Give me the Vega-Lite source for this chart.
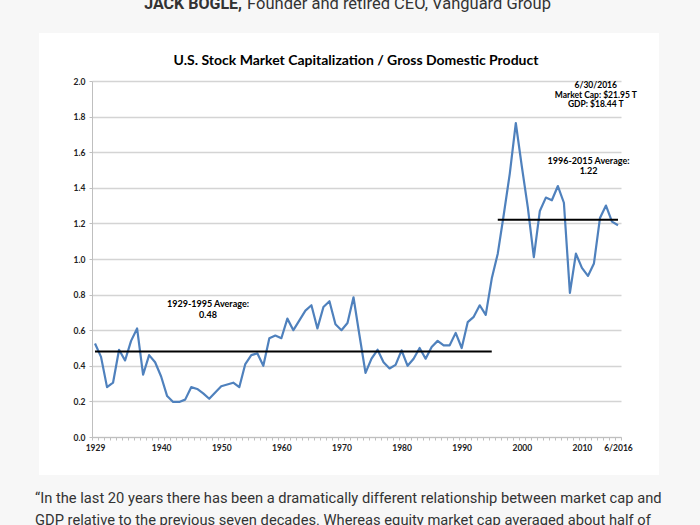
{
  "$schema": "https://vega.github.io/schema/vega-lite/v6.json",
  "width": 529,
  "height": 356,
  "autosize": {"type": "none"},
  "padding": {"left": 92, "top": 81, "right": 79, "bottom": 88},
  "background": "white",
  "config": {"view": {"stroke": null}},
  "resolve": {"axis": {"x": "independent", "y": "independent"}},
  "datasets": {
    "ratio": [
      {"year": 1929, "ratio": 0.525}, {"year": 1930, "ratio": 0.45}, {"year": 1931, "ratio": 0.28},
      {"year": 1932, "ratio": 0.305}, {"year": 1933, "ratio": 0.49}, {"year": 1934, "ratio": 0.43},
      {"year": 1935, "ratio": 0.54}, {"year": 1936, "ratio": 0.61}, {"year": 1937, "ratio": 0.35},
      {"year": 1938, "ratio": 0.46}, {"year": 1939, "ratio": 0.42}, {"year": 1940, "ratio": 0.34},
      {"year": 1941, "ratio": 0.23}, {"year": 1942, "ratio": 0.197}, {"year": 1943, "ratio": 0.197},
      {"year": 1944, "ratio": 0.21}, {"year": 1945, "ratio": 0.28}, {"year": 1946, "ratio": 0.27},
      {"year": 1947, "ratio": 0.245}, {"year": 1948, "ratio": 0.215}, {"year": 1949, "ratio": 0.25},
      {"year": 1950, "ratio": 0.285}, {"year": 1951, "ratio": 0.295}, {"year": 1952, "ratio": 0.305},
      {"year": 1953, "ratio": 0.28}, {"year": 1954, "ratio": 0.41}, {"year": 1955, "ratio": 0.46},
      {"year": 1956, "ratio": 0.47}, {"year": 1957, "ratio": 0.4}, {"year": 1958, "ratio": 0.555},
      {"year": 1959, "ratio": 0.57}, {"year": 1960, "ratio": 0.555}, {"year": 1961, "ratio": 0.665},
      {"year": 1962, "ratio": 0.6}, {"year": 1963, "ratio": 0.655}, {"year": 1964, "ratio": 0.71},
      {"year": 1965, "ratio": 0.74}, {"year": 1966, "ratio": 0.61}, {"year": 1967, "ratio": 0.73},
      {"year": 1968, "ratio": 0.763}, {"year": 1969, "ratio": 0.633}, {"year": 1970, "ratio": 0.6},
      {"year": 1971, "ratio": 0.64}, {"year": 1972, "ratio": 0.785}, {"year": 1973, "ratio": 0.57},
      {"year": 1974, "ratio": 0.36}, {"year": 1975, "ratio": 0.44}, {"year": 1976, "ratio": 0.49},
      {"year": 1977, "ratio": 0.42}, {"year": 1978, "ratio": 0.385}, {"year": 1979, "ratio": 0.405},
      {"year": 1980, "ratio": 0.487}, {"year": 1981, "ratio": 0.4}, {"year": 1982, "ratio": 0.44},
      {"year": 1983, "ratio": 0.5}, {"year": 1984, "ratio": 0.44}, {"year": 1985, "ratio": 0.505},
      {"year": 1986, "ratio": 0.54}, {"year": 1987, "ratio": 0.515}, {"year": 1988, "ratio": 0.515},
      {"year": 1989, "ratio": 0.585}, {"year": 1990, "ratio": 0.5}, {"year": 1991, "ratio": 0.645},
      {"year": 1992, "ratio": 0.675}, {"year": 1993, "ratio": 0.74}, {"year": 1994, "ratio": 0.686},
      {"year": 1995, "ratio": 0.89}, {"year": 1996, "ratio": 1.03}, {"year": 1997, "ratio": 1.25},
      {"year": 1998, "ratio": 1.48}, {"year": 1999, "ratio": 1.764}, {"year": 2000, "ratio": 1.52},
      {"year": 2001, "ratio": 1.29}, {"year": 2002, "ratio": 1.01}, {"year": 2003, "ratio": 1.27},
      {"year": 2004, "ratio": 1.345}, {"year": 2005, "ratio": 1.33}, {"year": 2006, "ratio": 1.41},
      {"year": 2007, "ratio": 1.316}, {"year": 2008, "ratio": 0.81}, {"year": 2009, "ratio": 1.03},
      {"year": 2010, "ratio": 0.95}, {"year": 2011, "ratio": 0.905}, {"year": 2012, "ratio": 0.975},
      {"year": 2013, "ratio": 1.23}, {"year": 2014, "ratio": 1.3}, {"year": 2015, "ratio": 1.21},
      {"year": 2016, "ratio": 1.19}
    ],
    "averages": [
      {"from": 1929, "to": 1995, "avg": 0.48},
      {"from": 1996, "to": 2016, "avg": 1.22}
    ]
  },
  "layer": [
    {
      "data": {"name": "ratio"},
      "mark": {"type": "line", "color": "#4f81bd", "strokeWidth": 2.2, "strokeJoin": "round"},
      "encoding": {
        "x": {
          "field": "year", "type": "quantitative",
          "scale": {"domain": [1928.5, 2016.5], "nice": false, "zero": false},
          "axis": {
            "title": null,
            "orient": "bottom",
            "grid": false,
            "values": [1928.5,1929.5,1930.5,1931.5,1932.5,1933.5,1934.5,1935.5,1936.5,1937.5,1938.5,1939.5,1940.5,1941.5,1942.5,1943.5,1944.5,1945.5,1946.5,1947.5,1948.5,1949.5,1950.5,1951.5,1952.5,1953.5,1954.5,1955.5,1956.5,1957.5,1958.5,1959.5,1960.5,1961.5,1962.5,1963.5,1964.5,1965.5,1966.5,1967.5,1968.5,1969.5,1970.5,1971.5,1972.5,1973.5,1974.5,1975.5,1976.5,1977.5,1978.5,1979.5,1980.5,1981.5,1982.5,1983.5,1984.5,1985.5,1986.5,1987.5,1988.5,1989.5,1990.5,1991.5,1992.5,1993.5,1994.5,1995.5,1996.5,1997.5,1998.5,1999.5,2000.5,2001.5,2002.5,2003.5,2004.5,2005.5,2006.5,2007.5,2008.5,2009.5,2010.5,2011.5,2012.5,2013.5,2014.5,2015.5,2016.5],
            "labelExpr": "datum.value == 2015.5 ? '6/2016' : (datum.value == 1928.5 || ((datum.value + 0.5) % 10 == 0 && datum.value > 1935 && datum.value < 2015)) ? format(datum.value + 0.5, 'd') : ''",
            "labelOffset": 3,
            "labelFlush": false,
            "labelOverlap": false,
            "labelBound": false,
            "labelFont": "Lato",
            "labelFontSize": 8.5,
            "labelFontWeight": "bold",
            "labelColor": "#222222",
            "labelPadding": 3,
            "domainColor": "#bfbfbf",
            "tickColor": "#bfbfbf",
            "tickSize": 3
          }
        },
        "y": {
          "field": "ratio", "type": "quantitative",
          "scale": {"domain": [0, 2], "nice": false, "zero": false},
          "axis": {
            "title": null,
            "orient": "left",
            "values": [0, 0.2, 0.4, 0.6, 0.8, 1, 1.2, 1.4, 1.6, 1.8, 2],
            "format": ".1f",
            "grid": true,
            "gridColor": "#d4d4d4",
            "gridWidth": 1.3,
            "domainColor": "#bfbfbf",
            "tickColor": "#bfbfbf",
            "tickSize": 3,
            "labelPadding": 4,
            "labelOverlap": false,
            "labelFont": "Lato",
            "labelFontSize": 8.5,
            "labelFontWeight": "bold",
            "labelColor": "#222222"
          }
        }
      }
    },
    {
      "data": {"name": "averages"},
      "mark": {"type": "rule", "color": "#000000", "strokeWidth": 2},
      "encoding": {
        "x": {"field": "from", "type": "quantitative", "axis": null},
        "x2": {"field": "to"},
        "y": {"field": "avg", "type": "quantitative", "axis": null}
      }
    },
    {
      "data": {"values": [{}]},
      "mark": {"type": "text", "font": "Lato", "fontSize": 9, "fontWeight": "bold", "color": "#000000", "align": "center", "baseline": "alphabetic", "lineHeight": 10.5},
      "encoding": {
        "x": {"datum": 1947.8, "type": "quantitative", "axis": null},
        "y": {"datum": 0.728, "type": "quantitative", "axis": null},
        "text": {"value": ["1929-1995 Average:", "0.48"]}
      }
    },
    {
      "data": {"values": [{}]},
      "mark": {"type": "text", "font": "Lato", "fontSize": 9, "fontWeight": "bold", "color": "#000000", "align": "center", "baseline": "alphabetic", "lineHeight": 10.5},
      "encoding": {
        "x": {"datum": 2011.1, "type": "quantitative", "axis": null},
        "y": {"datum": 1.534, "type": "quantitative", "axis": null},
        "text": {"value": ["1996-2015 Average:", "1.22"]}
      }
    },
    {
      "data": {"values": [{}]},
      "mark": {"type": "text", "font": "Lato", "fontSize": 8.5, "fontWeight": "bold", "color": "#000000", "align": "center", "baseline": "alphabetic", "lineHeight": 9.6},
      "encoding": {
        "x": {"datum": 2012.3, "type": "quantitative", "axis": null},
        "y": {"datum": 1.959, "type": "quantitative", "axis": null},
        "text": {"value": ["6/30/2016", "Market Cap: $21.95 T", "GDP: $18.44 T"]}
      }
    },
    {
      "data": {"values": [{}]},
      "mark": {"type": "text", "font": "Lato", "fontSize": 14, "fontWeight": "bold", "color": "#000000", "align": "center", "baseline": "alphabetic"},
      "encoding": {
        "x": {"datum": 1972.42, "type": "quantitative", "axis": null},
        "y": {"datum": 2.0899, "type": "quantitative", "axis": null},
        "text": {"value": "U.S. Stock Market Capitalization / Gross Domestic Product"}
      }
    },
    {
      "data": {"values": [{}]},
      "mark": {"type": "rect", "fill": null, "stroke": "#f7f7f7", "strokeWidth": 120},
      "encoding": {
        "x": {"datum": 1909.7, "type": "quantitative", "axis": null},
        "x2": {"datum": 2032.81},
        "y": {"datum": 2.607, "type": "quantitative", "axis": null},
        "y2": {"datum": -0.5506}
      }
    },
    {
      "data": {"values": [{}]},
      "mark": {"type": "text", "font": "Roboto", "fontSize": 16, "fontWeight": "bold", "color": "#333333", "align": "right", "baseline": "alphabetic"},
      "encoding": {
        "x": {"datum": 1953.45, "type": "quantitative", "axis": null},
        "y": {"datum": 2.4045, "type": "quantitative", "axis": null},
        "text": {"value": "JACK BOGLE,"}
      }
    },
    {
      "data": {"values": [{}]},
      "mark": {"type": "text", "font": "Roboto", "fontSize": 16.5, "fontWeight": "normal", "color": "#333333", "align": "left", "baseline": "alphabetic"},
      "encoding": {
        "x": {"datum": 1954.3, "type": "quantitative", "axis": null},
        "y": {"datum": 2.4045, "type": "quantitative", "axis": null},
        "text": {"value": "Founder and retired CEO, Vanguard Group"}
      }
    },
    {
      "data": {"values": [{}]},
      "mark": {"type": "text", "font": "Roboto", "fontSize": 14.7, "fontWeight": "normal", "color": "#333333", "align": "left", "baseline": "alphabetic", "lineHeight": 22},
      "encoding": {
        "x": {"datum": 1919.02, "type": "quantitative", "axis": null},
        "y": {"datum": -0.3708, "type": "quantitative", "axis": null},
        "text": {"value": ["“In the last 20 years there has been a dramatically different relationship between market cap and", "GDP relative to the previous seven decades. Whereas equity market cap averaged about half of"]}
      }
    }
  ]
}
